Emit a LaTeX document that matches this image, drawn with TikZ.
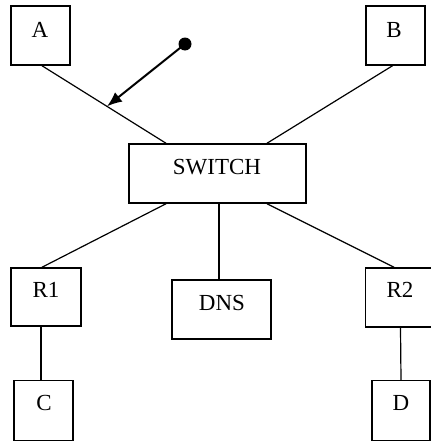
\documentclass[tikz,border=0pt]{standalone}
\usepackage{fontspec}
\setmainfont{Liberation Serif}
\usetikzlibrary{arrows.meta,calc}
\begin{document}
\begin{tikzpicture}[x=1pt,y=-1pt,
  box/.style={draw=black,line width=1.5pt,minimum width=#1,inner sep=0pt},
  lbl/.style={inner sep=0pt,font=\fontsize{23}{23}\selectfont},
  link/.style={draw=black,line width=1.2pt},
  ptr/.style={draw=black,line width=2pt,-{Latex[length=15pt,width=12pt]}}]
\useasboundingbox (0,0) rectangle (431,442);
\clip (0,0) rectangle (431,442);
% boxes
\node[box=59pt,minimum height=59pt] (A) at (40.5,35.5) {};
\node[box=59pt,minimum height=59pt] (B) at (395.5,35.5) {};
\node[box=177pt,minimum height=59pt] (SW) at (217.5,173.5) {};
\node[box=70pt,minimum height=58pt] (R1) at (46,297) {};
\node[box=99pt,minimum height=59pt] (DNS) at (221.5,309.5) {};
\node[box=70pt,minimum height=59pt] (R2) at (400.5,297.5) {};
\node[box=59pt,minimum height=60pt] (C) at (43.5,410.5) {};
\node[box=58pt,minimum height=60pt] (D) at (401,410.5) {};
% labels
\node[lbl] (tA) at (40,30) {A};
\node[lbl] (tB) at (394,30) {B};
\node[lbl] (tSW) at (217,167) {SWITCH};
\node[lbl] (tR1) at (46,290) {R1};
\node[lbl] (tDNS) at (222,303) {DNS};
\node[lbl] (tR2) at (400,290) {R2};
\node[lbl] (tC) at (44,403) {C};
\node[lbl] (tD) at (401,403) {D};
% links
\draw[link] ([xshift=1.5pt]A.south) -- ([xshift=-51.5pt]SW.north);
\draw[link] ([xshift=-3pt]B.south) -- ([xshift=49.5pt]SW.north);
\draw[link] ([xshift=-51.5pt]SW.south) -- ([xshift=-4pt]R1.north);
\draw[link] ([xshift=1.5pt]SW.south) -- ([xshift=-2.5pt]DNS.north);
\draw[link] ([xshift=49.5pt]SW.south) -- ([xshift=-6.5pt]R2.north);
\draw[link,line width=1.6pt] ([xshift=-5pt]R1.south) -- ([xshift=-2.5pt]C.north);
\draw[link] (R2.south) -- (D.north);
% pointer
\coordinate (tip) at ($([xshift=1.5pt]A.south)!0.524!([xshift=-51.5pt]SW.north)$);
\node[circle,fill=black,inner sep=0pt,minimum size=13pt] (dot) at (185,44) {};
\draw[ptr] (dot.center) -- (tip);
\end{tikzpicture}
\end{document}
